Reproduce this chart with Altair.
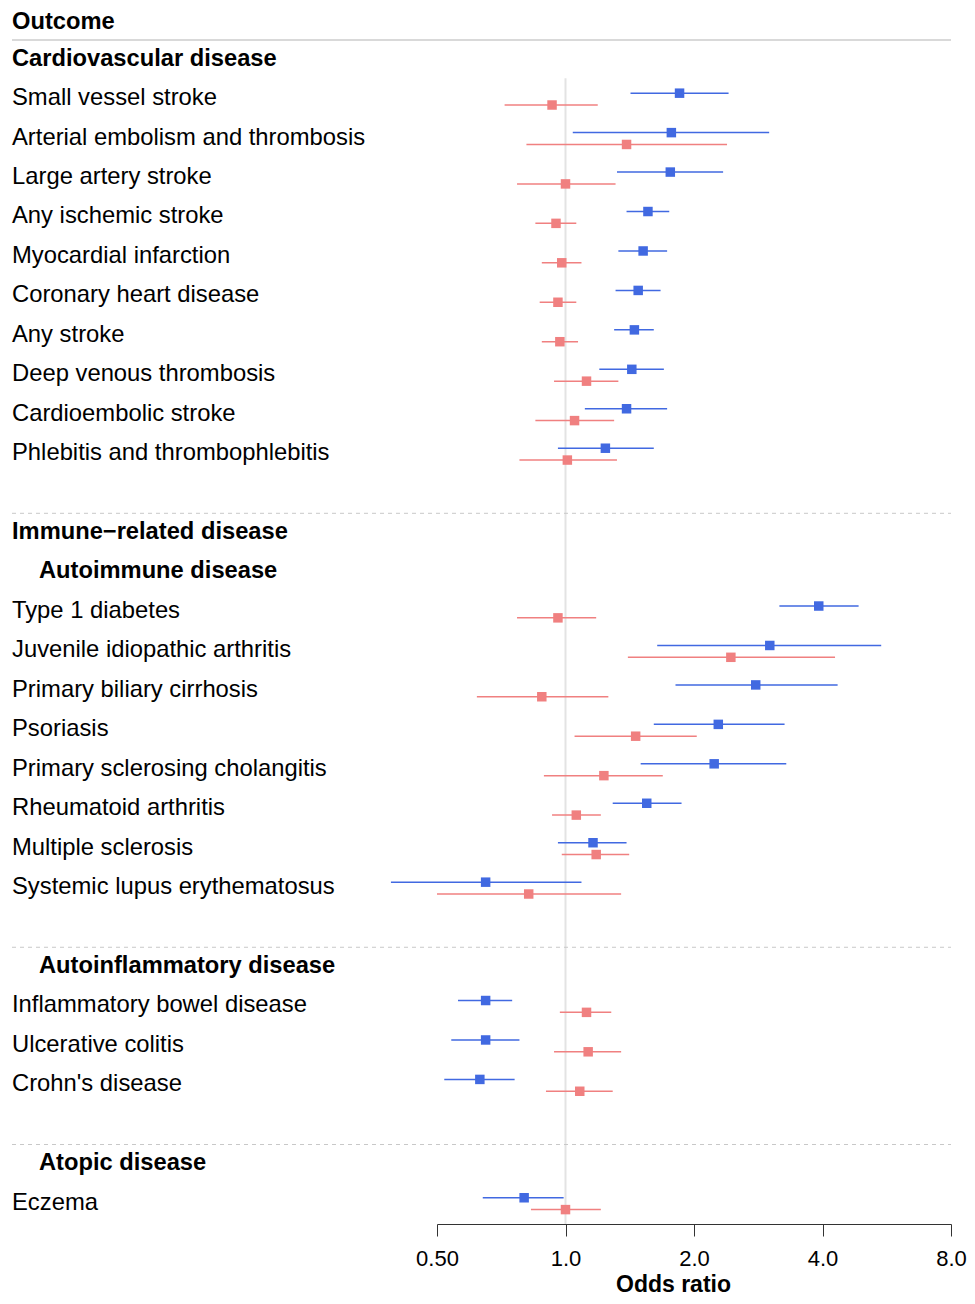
import altair as alt
import pandas as pd

# ---------------- data ----------------
row_labels = [
    "Outcome",
    "Cardiovascular disease",
    "Small vessel stroke", "Arterial embolism and thrombosis", "Large artery stroke",
    "Any ischemic stroke", "Myocardial infarction", "Coronary heart disease",
    "Any stroke", "Deep venous thrombosis", "Cardioembolic stroke",
    "Phlebitis and thrombophlebitis",
    "",
    "Immune\u2212related disease",
    "Autoimmune disease",
    "Type 1 diabetes", "Juvenile idiopathic arthritis", "Primary biliary cirrhosis",
    "Psoriasis", "Primary sclerosing cholangitis", "Rheumatoid arthritis",
    "Multiple sclerosis", "Systemic lupus erythematosus",
    "",
    "Autoinflammatory disease",
    "Inflammatory bowel disease", "Ulcerative colitis", "Crohn's disease",
    "",
    "Atopic disease",
    "Eczema",
]
row_kinds = (["title", "group"] + ["item"] * 10 + ["blank", "group", "sub"] + ["item"] * 8
             + ["blank", "sub"] + ["item"] * 3 + ["blank", "sub", "item"])

outcomes = [
    "Small vessel stroke", "Arterial embolism and thrombosis", "Large artery stroke",
    "Any ischemic stroke", "Myocardial infarction", "Coronary heart disease",
    "Any stroke", "Deep venous thrombosis", "Cardioembolic stroke",
    "Phlebitis and thrombophlebitis",
    "Type 1 diabetes", "Juvenile idiopathic arthritis", "Primary biliary cirrhosis",
    "Psoriasis", "Primary sclerosing cholangitis", "Rheumatoid arthritis",
    "Multiple sclerosis", "Systemic lupus erythematosus",
    "Inflammatory bowel disease", "Ulcerative colitis", "Crohn's disease",
    "Eczema",
]
blue_or = [1.85, 1.77, 1.76, 1.56, 1.52, 1.48, 1.45, 1.43, 1.39, 1.24,
           3.92, 3.01, 2.79, 2.28, 2.23, 1.55, 1.16, 0.65,
           0.65, 0.65, 0.63, 0.80]
blue_lo = [1.42, 1.04, 1.32, 1.39, 1.33, 1.31, 1.30, 1.20, 1.11, 0.96,
           3.17, 1.64, 1.81, 1.61, 1.50, 1.29, 0.96, 0.39,
           0.56, 0.54, 0.52, 0.64]
blue_hi = [2.41, 3.00, 2.34, 1.75, 1.73, 1.67, 1.61, 1.70, 1.73, 1.61,
           4.86, 5.49, 4.34, 3.26, 3.29, 1.87, 1.39, 1.09,
           0.75, 0.78, 0.76, 0.99]
red_or = [0.93, 1.39, 1.00, 0.95, 0.98, 0.96, 0.97, 1.12, 1.05, 1.01,
          0.96, 2.44, 0.88, 1.46, 1.23, 1.06, 1.18, 0.82,
          1.12, 1.13, 1.08, 1.00]
red_lo = [0.72, 0.81, 0.77, 0.85, 0.88, 0.87, 0.88, 0.94, 0.85, 0.78,
          0.77, 1.40, 0.62, 1.05, 0.89, 0.93, 0.98, 0.50,
          0.97, 0.94, 0.90, 0.83]
red_hi = [1.19, 2.39, 1.31, 1.06, 1.09, 1.06, 1.07, 1.33, 1.30, 1.32,
          1.18, 4.28, 1.26, 2.03, 1.69, 1.21, 1.41, 1.35,
          1.28, 1.35, 1.29, 1.21]

series_names = ["Estimate A", "Estimate B"]
series_colors = ["#4169E1", "#F08080"]

# ---------------- tables ----------------
rows = pd.DataFrame({"label": row_labels, "kind": row_kinds, "row": range(len(row_labels))})
row_of = dict(zip(rows["label"], rows["row"]))

recs = []
for i, name in enumerate(outcomes):
    recs.append({"outcome": name, "series": series_names[0], "or": blue_or[i],
                 "lo": blue_lo[i], "hi": blue_hi[i], "pos": row_of[name] - 0.15})
    recs.append({"outcome": name, "series": series_names[1], "or": red_or[i],
                 "lo": red_lo[i], "hi": red_hi[i], "pos": row_of[name] + 0.15})
est = pd.DataFrame(recs)

sep = pd.DataFrame({"y": [r + 0.5 for r, k in zip(rows["row"], rows["kind"]) if k == "blank"]})
head_line = pd.DataFrame({"y": [0.5]})

Y_DOMAIN = [-0.309, 30.515]
ref = pd.DataFrame({"x": [1.0], "y": [1.47], "y2": [Y_DOMAIN[1]]})

W = 514
LEFT = 429
TXT = 12 - 8 - LEFT

FONT = "Liberation Sans"
yscale = alt.Scale(domain=Y_DOMAIN, reverse=True, nice=False, zero=False)
xscale = alt.Scale(type="log", base=2, domain=[0.5, 8], nice=False)
xaxis = alt.Axis(
    values=[0.5, 1, 2, 4, 8],
    labelExpr="datum.value == 0.5 ? '0.50' : format(datum.value, '.1f')",
    grid=False, domainColor="#333333", tickColor="#333333", tickSize=12,
    domainWidth=1, tickWidth=1,
    labelFontSize=22, labelFont=FONT, labelColor="black", labelPadding=12,
    labelFlush=False, labelOverlap=False,
    title="Odds ratio", titleFont=FONT, titleFontSize=23, titleFontWeight="bold",
    titleColor="black", titleX=236, titleY=60, titleAlign="center",
    titleBaseline="middle",
)
color = alt.Color("series:N", scale=alt.Scale(domain=series_names, range=series_colors), legend=None)

refline = alt.Chart(ref).mark_rule(color="#e3e3e3", strokeWidth=2).encode(
    x=alt.X("x:Q", scale=xscale, axis=xaxis),
    y=alt.Y("y:Q", scale=yscale, axis=None),
    y2="y2:Q",
)

headrule = alt.Chart(head_line).mark_rule(color="#d9d9d9", strokeWidth=2).encode(
    x=alt.value(TXT), x2=alt.value(W),
    y=alt.Y("y:Q", scale=yscale, axis=None),
)

seprule = alt.Chart(sep).mark_rule(color="#c8c8c8", strokeWidth=1, strokeDash=[4, 4]).encode(
    x=alt.value(TXT), x2=alt.value(W),
    y=alt.Y("y:Q", scale=yscale, axis=None),
)

bars = alt.Chart(est).mark_rule(strokeWidth=1.5).encode(
    x=alt.X("lo:Q", scale=xscale, axis=xaxis),
    x2="hi:Q",
    y=alt.Y("pos:Q", scale=yscale, axis=None),
    color=color,
)

points = alt.Chart(est).mark_square(size=90, opacity=1).encode(
    x=alt.X("or:Q", scale=xscale, axis=xaxis),
    y=alt.Y("pos:Q", scale=yscale, axis=None),
    color=color,
)

def text_layer(kinds, dx, weight, size, dy=-1):
    return alt.Chart(rows).transform_filter(
        alt.FieldOneOfPredicate(field="kind", oneOf=kinds)
    ).mark_text(align="left", baseline="middle", font=FONT, fontSize=size,
                fontWeight=weight, color="black", dy=dy).encode(
        x=alt.value(dx),
        y=alt.Y("row:Q", scale=yscale, axis=None),
        text="label:N",
    )

t_items = text_layer(["item"], TXT, "normal", 23.8)
t_title = text_layer(["title"], TXT, "bold", 23.7, dy=2)
t_heads = text_layer(["group"], TXT, "bold", 23.7)
t_subs = text_layer(["sub"], TXT + 27, "bold", 23.7)

chart = alt.layer(
    refline, headrule, seprule, bars, points, t_items, t_title, t_heads, t_subs
).properties(
    width=W, height=1216,
    padding={"left": LEFT, "top": 0, "right": 16, "bottom": 72},
    autosize="none",
).configure_view(strokeWidth=0)

chart.save("out.html", embed_options={"renderer": "svg", "actions": False})
